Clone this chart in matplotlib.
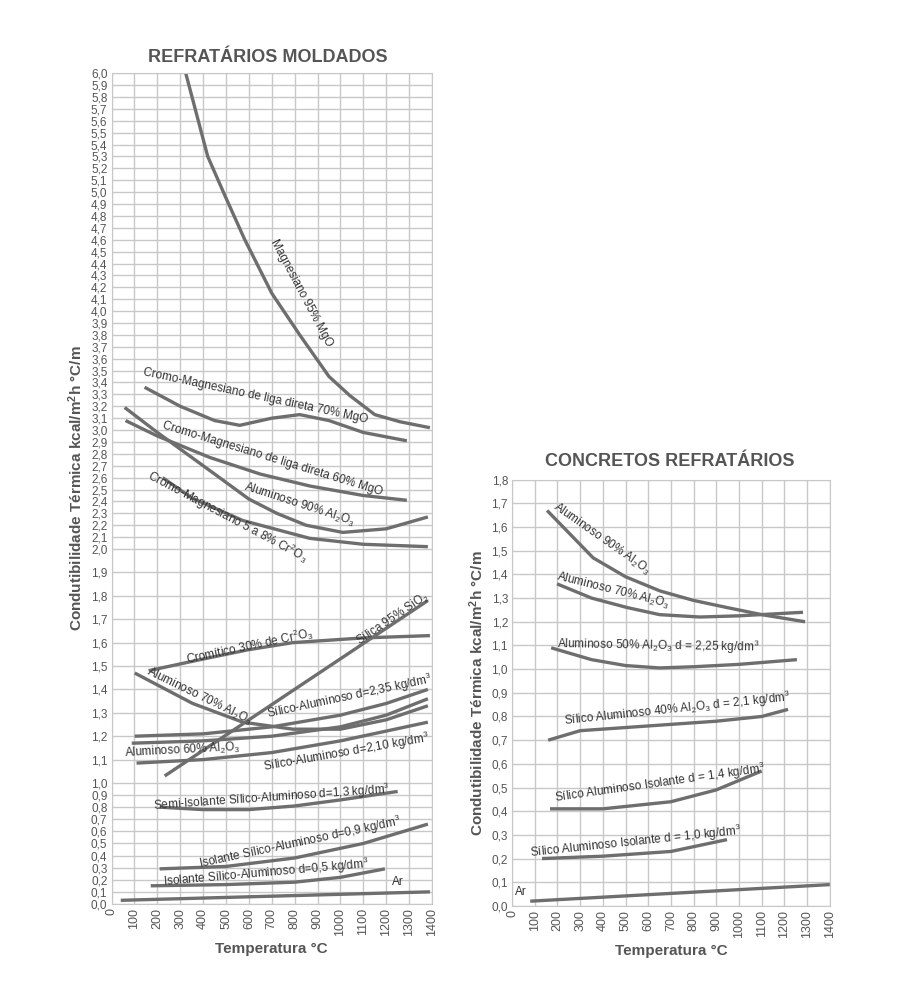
import numpy as np
import matplotlib
matplotlib.use("Agg")
import matplotlib.pyplot as plt

plt.rcParams['font.family'] = ['Liberation Sans', 'DejaVu Sans']
plt.rcParams['mathtext.default'] = 'regular'

COR = '#6e6e6e'
TXT = '#555555'

# ---------------- dados: refratários moldados ----------------
mag95_x = [324, 420, 500, 582, 700, 822, 950, 1041, 1150, 1260, 1391]
mag95_y = [6.0, 5.3, 4.95, 4.6, 4.15, 3.8, 3.45, 3.29, 3.13, 3.07, 3.02]
cm70_x = [144, 300, 450, 560, 700, 822, 950, 1100, 1290]
cm70_y = [3.36, 3.2, 3.08, 3.04, 3.1, 3.13, 3.08, 2.98, 2.91]
cm60_x = [61, 200, 429, 650, 866, 1100, 1290]
cm60_y = [3.08, 2.95, 2.77, 2.63, 2.53, 2.45, 2.41]
al90_x = [57, 200, 429, 600, 722, 850, 1010, 1200, 1382]
al90_y = [3.19, 2.98, 2.66, 2.42, 2.3, 2.2, 2.14, 2.17, 2.27]
cmcr_x = [223, 350, 573, 866, 1100, 1382]
cmcr_y = [2.6, 2.43, 2.24, 2.09, 2.04, 2.02]
crom_x = [162, 400, 600, 792, 1098, 1391]
crom_y = [1.48, 1.53, 1.57, 1.6, 1.62, 1.63]
sil_x = [232, 1382]
sil_y = [1.03, 1.78]
al70_x = [101, 354, 573, 792, 1000, 1200, 1382]
al70_y = [1.47, 1.34, 1.26, 1.23, 1.23, 1.27, 1.33]
sa235_x = [101, 400, 700, 1000, 1200, 1382]
sa235_y = [1.20, 1.21, 1.24, 1.29, 1.34, 1.40]
al60_x = [88, 400, 700, 1000, 1200, 1382]
al60_y = [1.17, 1.18, 1.2, 1.24, 1.29, 1.36]
sa210_x = [109, 400, 700, 1000, 1382]
sa210_y = [1.085, 1.10, 1.13, 1.18, 1.26]
semi_x = [210, 400, 600, 800, 1000, 1250]
semi_y = [0.80, 0.78, 0.78, 0.81, 0.86, 0.93]
iso09_x = [210, 500, 800, 1100, 1382]
iso09_y = [0.29, 0.31, 0.38, 0.5, 0.66]
iso05_x = [171, 500, 800, 1000, 1194]
iso05_y = [0.15, 0.16, 0.18, 0.22, 0.29]
ar1_x = [40, 1391]
ar1_y = [0.03, 0.1]

# ---------------- dados: concretos refratários ----------------
c90_x = [154, 357, 500, 652, 800, 947, 1100, 1291]
c90_y = [1.67, 1.47, 1.39, 1.33, 1.29, 1.26, 1.23, 1.20]
c70_x = [198, 350, 507, 650, 828, 1000, 1282]
c70_y = [1.36, 1.3, 1.26, 1.23, 1.22, 1.225, 1.24]
c50_x = [172, 350, 500, 650, 800, 1000, 1255]
c50_y = [1.09, 1.04, 1.015, 1.005, 1.01, 1.02, 1.04]
c40_x = [159, 300, 600, 900, 1100, 1216]
c40_y = [0.70, 0.74, 0.76, 0.78, 0.80, 0.83]
ci14_x = [167, 400, 700, 900, 1100]
ci14_y = [0.41, 0.41, 0.44, 0.49, 0.57]
ci10_x = [132, 400, 700, 947]
ci10_y = [0.20, 0.21, 0.23, 0.28]
ar2_x = [80, 1400]
ar2_y = [0.02, 0.09]

temps = list(range(0, 1401, 100))

# escala em trechos do eixo esquerdo
brk_v = [0, 1, 2, 6]
brk_p = [0, 121, 355, 831]
def fwd(v):
    return np.interp(v, brk_v, brk_p)
def inv(p):
    return np.interp(p, brk_p, brk_v)

fig = plt.figure(figsize=(9, 9.89), dpi=100)
ax1 = fig.add_axes([0.124, 0.086, 0.356, 0.840])
ax2 = fig.add_axes([0.569, 0.084, 0.353, 0.431])

ax1.set_yscale('function', functions=(fwd, inv))

def estilo(ax, ymax):
    ax.set_xlim(0, 1400)
    ax.set_ylim(0, ymax)
    yt = np.round(np.arange(0, ymax + 0.001, 0.1), 1)
    ax.set_yticks(yt)
    ax.set_yticklabels([f"{v:.1f}".replace('.', ',') for v in yt], fontsize=8.5, color=TXT)
    ax.set_xticks(temps)
    ax.set_xticklabels([str(t) for t in temps], rotation=90, fontsize=9, color=TXT)
    ax.grid(True, color='#c8c8c8', lw=1)
    ax.set_axisbelow(True)
    ax.tick_params(length=0, pad=3)
    for s in ax.spines.values():
        s.set_color('#c8c8c8')
    ax.set_xlabel('Temperatura °C', fontsize=11, fontweight='bold', color=TXT)
    ax.set_ylabel('Condutibilidade Térmica kcal/m$^2$h °C/m', fontsize=11,
                  fontweight='bold', color=TXT)

estilo(ax1, 6.0)
estilo(ax2, 1.8)

for xs, ys in [(mag95_x, mag95_y), (cm70_x, cm70_y), (cm60_x, cm60_y), (al90_x, al90_y),
               (cmcr_x, cmcr_y), (crom_x, crom_y), (sil_x, sil_y), (al70_x, al70_y),
               (sa235_x, sa235_y), (al60_x, al60_y), (sa210_x, sa210_y), (semi_x, semi_y),
               (iso09_x, iso09_y), (iso05_x, iso05_y), (ar1_x, ar1_y)]:
    ax1.plot(xs, ys, color=COR, lw=2.4, solid_capstyle='butt')

for xs, ys in [(c90_x, c90_y), (c70_x, c70_y), (c50_x, c50_y), (c40_x, c40_y),
               (ci14_x, ci14_y), (ci10_x, ci10_y), (ar2_x, ar2_y)]:
    ax2.plot(xs, ys, color=COR, lw=2.4, solid_capstyle='butt')

def rotulo(ax, x, y, s, rot, fs=8.5):
    ax.text(x, y, s, rotation=rot, rotation_mode='anchor', ha='center', va='center',
            fontsize=fs, color='#333333')

rotulo(ax1, 830, 4.15, 'Magnesiano 95% MgO', -62)
rotulo(ax1, 630, 3.29, 'Cromo-Magnesiano de liga direta 70% MgO', -12)
rotulo(ax1, 704, 2.76, 'Cromo-Magnesiano de liga direta 60% MgO', -17)
rotulo(ax1, 822, 2.37, 'Aluminoso 90% Al$_2$O$_3$', -18)
rotulo(ax1, 507, 2.27, 'Cromo-Magnesiano 5 a 8% Cr$^2$O$_3$', -28)
rotulo(ax1, 604, 1.585, 'Cromítico 30% de Cr$^2$O$_3$', 12)
rotulo(ax1, 1229, 1.70, 'Sílica 95% SiO$_2$', 34)
rotulo(ax1, 385, 1.37, 'Aluminoso 70% Al$_2$O$_3$', -26)
rotulo(ax1, 1041, 1.37, 'Sílico-Aluminoso d=2,35 kg/dm$^3$', 12)
rotulo(ax1, 310, 1.14, 'Aluminoso 60% Al$_2$O$_3$', 3)
rotulo(ax1, 1028, 1.13, 'Sílico-Aluminoso d=2,10 kg/dm$^3$', 10)
rotulo(ax1, 700, 0.875, 'Semi-Isolante Sílico-Aluminoso d=1,3 kg/dm$^3$', 4)
rotulo(ax1, 822, 0.51, 'Isolante Sílico-Aluminoso d=0,9 kg/dm$^3$', 12)
rotulo(ax1, 674, 0.26, 'Isolante Sílico-Aluminoso d=0,5 kg/dm$^3$', 5)
rotulo(ax1, 1251, 0.18, 'Ar', 0)

rotulo(ax2, 396, 1.55, 'Aluminoso 90% Al$_2$O$_3$', -35)
rotulo(ax2, 445, 1.33, 'Aluminoso 70% Al$_2$O$_3$', -14)
rotulo(ax2, 643, 1.10, 'Aluminoso 50% Al$_2$O$_3$ d = 2,25 kg/dm$^3$', -1)
rotulo(ax2, 727, 0.83, 'Sílico Aluminoso 40% Al$_2$O$_3$ d = 2,1 kg/dm$^3$', 6)
rotulo(ax2, 652, 0.52, 'Sílico Aluminoso Isolante d = 1,4 kg/dm$^3$', 8)
rotulo(ax2, 546, 0.27, 'Sílico Aluminoso Isolante d = 1,0 kg/dm$^3$', 6)
rotulo(ax2, 40, 0.06, 'Ar', 0)

fig.text(268 / 900, 1 - 57 / 989, 'REFRATÁRIOS MOLDADOS', ha='center', va='center',
         fontsize=13, fontweight='bold', color=TXT)
fig.text(670 / 900, 1 - 462 / 989, 'CONCRETOS REFRATÁRIOS', ha='center', va='center',
         fontsize=13, fontweight='bold', color=TXT)

fig.savefig('out.png', dpi=100)
